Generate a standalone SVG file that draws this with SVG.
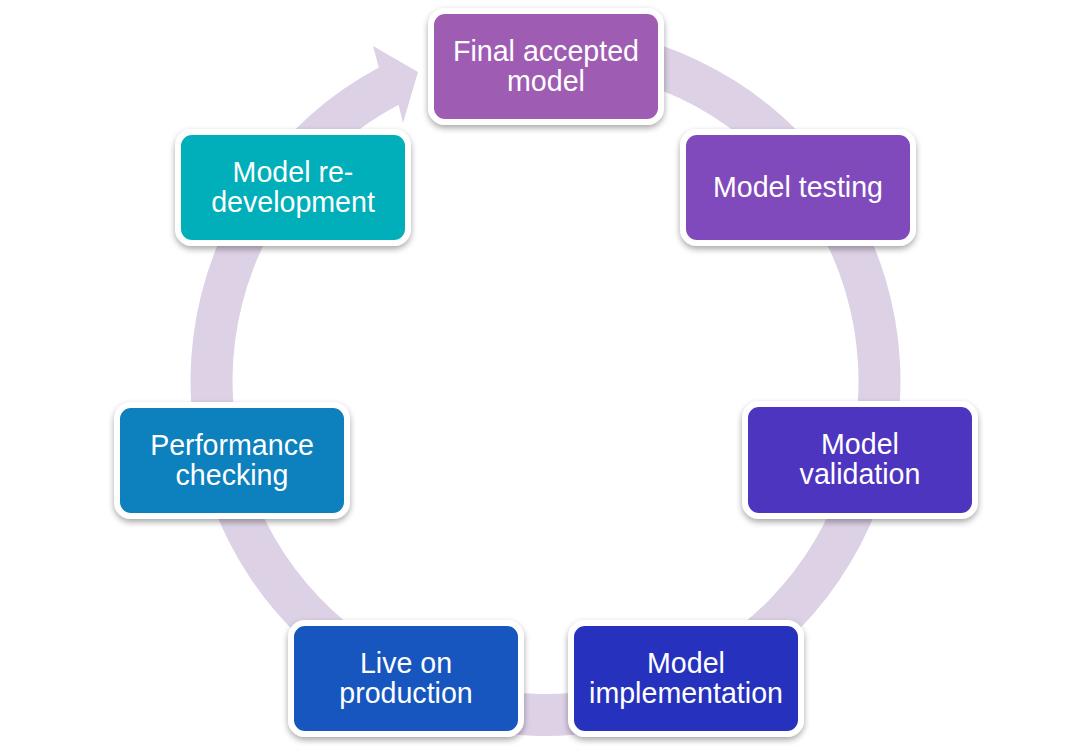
<svg xmlns="http://www.w3.org/2000/svg" width="1091" height="752" viewBox="0 0 1091 752">
<defs>
<filter id="sh" x="-10%" y="-10%" width="120%" height="130%">
<feDropShadow dx="0" dy="3" stdDeviation="3" flood-color="#000" flood-opacity="0.35"/>
</filter>
<style>
.box{stroke:#fff;stroke-width:6;filter:url(#sh)}
.t{font-family:"Liberation Sans",Arial,sans-serif;font-size:28.6px;fill:#fff;text-anchor:middle}
</style>
</defs>
<rect width="1091" height="752" fill="#fff"/>
<g id="connectors">
<path d="M 576.44 27.35 A 355 355 0 1 1 378.84 67.55 L 373 46 L 418 72 L 403 123 L 398.56 104.64 A 313 313 0 1 0 572.78 69.19 Z" fill="#DDD1E6"/>
</g>
<g id="final">
<rect class="box" x="431" y="11" width="230" height="111" rx="14" fill="#9F5CB3"/>
<text class="t" x="546" y="61">Final accepted</text>
<text class="t" x="546" y="91">model</text>
</g>
<g id="testing">
<rect class="box" x="683" y="132" width="230" height="111" rx="14" fill="#8048BC"/>
<text class="t" x="798" y="197">Model testing</text>
</g>
<g id="validation">
<rect class="box" x="745" y="404" width="230" height="112" rx="14" fill="#4E34C0"/>
<text class="t" x="860" y="454">Model</text>
<text class="t" x="860" y="484">validation</text>
</g>
<g id="implementation">
<rect class="box" x="571" y="623" width="230" height="111" rx="14" fill="#2832BE"/>
<text class="t" x="686" y="673">Model</text>
<text class="t" x="686" y="703">implementation</text>
</g>
<g id="live">
<rect class="box" x="291" y="623" width="230" height="111" rx="14" fill="#1957BE"/>
<text class="t" x="406" y="673">Live on</text>
<text class="t" x="406" y="703">production</text>
</g>
<g id="performance">
<rect class="box" x="117" y="405" width="230" height="111" rx="14" fill="#0D80BE"/>
<text class="t" x="232" y="455">Performance</text>
<text class="t" x="232" y="485">checking</text>
</g>
<g id="redevelopment">
<rect class="box" x="178" y="132" width="230" height="111" rx="14" fill="#00AFB9"/>
<text class="t" x="293" y="182">Model re-</text>
<text class="t" x="293" y="212">development</text>
</g>
</svg>
